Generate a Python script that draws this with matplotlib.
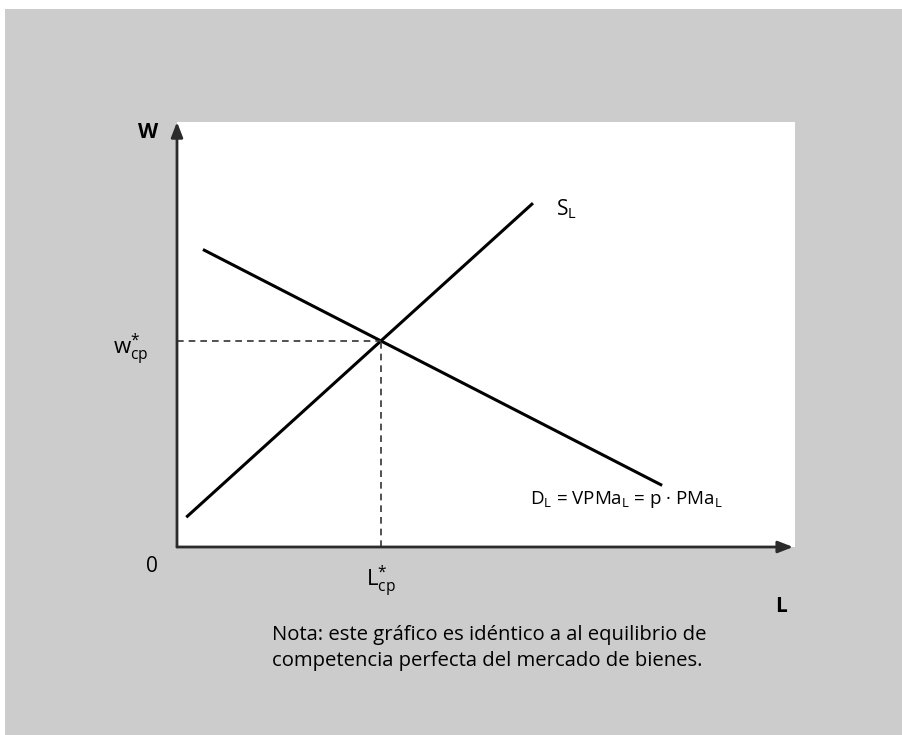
import matplotlib.pyplot as plt
from matplotlib.patches import Rectangle

plt.rcParams["font.family"] = ["Open Sans", "DejaVu Sans"]
plt.rcParams["mathtext.fontset"] = "custom"
plt.rcParams["mathtext.rm"] = "Open Sans"
plt.rcParams["mathtext.it"] = "Open Sans"
plt.rcParams["mathtext.bf"] = "Open Sans:bold"

# curve endpoints (L, w) on a 0-10 scale
demand_L = [0.42, 7.85]
demand_w = [7.0, 1.45]
supply_L = [0.15, 5.76]
supply_w = [0.70, 8.09]

# equilibrium
L_star = 3.3
w_star = 4.85

W, H = 902, 735
fig = plt.figure(figsize=(W / 100, H / 100), dpi=100)
fig.patch.set_facecolor("white")
fig.patches.append(Rectangle((5 / W, 0), 1, 1 - 9 / H, transform=fig.transFigure,
                             facecolor="#cccccc", edgecolor="none", zorder=-10))

left, right, top, bottom = 177, 795, 122, 547
ax = fig.add_axes([left / W, 1 - bottom / H, (right - left) / W, (bottom - top) / H])
ax.set_zorder(5)
ax.set_facecolor("white")
ax.set_xlim(0, 10)
ax.set_ylim(0, 10)
for s in ax.spines.values():
    s.set_visible(False)
ax.set_xticks([])
ax.set_yticks([])

# axes with arrowheads
arrow = dict(arrowstyle="-|>,head_length=0.9,head_width=0.35", color="#2b2b2b", lw=2,
             shrinkA=0, shrinkB=0)
ax.annotate("", xy=(0, 1.0), xytext=(0, 0), xycoords="axes fraction",
            arrowprops=arrow, annotation_clip=False)
ax.annotate("", xy=(0.997, 0), xytext=(0, 0), xycoords="axes fraction",
            arrowprops=arrow, annotation_clip=False)

ax.plot(demand_L, demand_w, color="black", lw=2.2, solid_capstyle="butt")
ax.plot(supply_L, supply_w, color="black", lw=2.2, solid_capstyle="butt")

# dashed guides to the equilibrium
ax.plot([0, L_star], [w_star, w_star], color="#333333", lw=1.2, ls=(0, (4, 3)))
ax.plot([L_star, L_star], [0, w_star], color="#333333", lw=1.2, ls=(0, (4, 3)))

# labels
ax.text(-0.47, 9.75, "W", fontsize=15, fontweight="bold", ha="center", va="center",
        clip_on=False)
ax.text(-0.75, w_star - 0.2, r"$\mathregular{w^{*}_{cp}}$", fontsize=16,
        ha="center", va="center", clip_on=False)
ax.text(-0.4, -0.45, "0", fontsize=15, ha="center", va="center", clip_on=False)
ax.text(L_star, -0.8, r"$\mathregular{L^{*}_{cp}}$", fontsize=16,
        ha="center", va="center", clip_on=False)
ax.text(9.78, -1.4, "L", fontsize=15, fontweight="bold", ha="center", va="center",
        clip_on=False)
ax.text(6.3, 7.95, r"S$_\mathregular{L}$", fontsize=15, ha="center", va="center")
ax.text(5.72, 1.12,
        r"D$_\mathregular{L}$ = VPMa$_\mathregular{L}$ = p · PMa$_\mathregular{L}$",
        fontsize=13.5, ha="left", va="center")

fig.text(272 / W, 1 - 648 / H,
         "Nota: este gráfico es idéntico a al equilibrio de\n"
         "competencia perfecta del mercado de bienes.",
         fontsize=14.6, ha="left", va="center", linespacing=1.44)

fig.savefig("out.png", dpi=100)
